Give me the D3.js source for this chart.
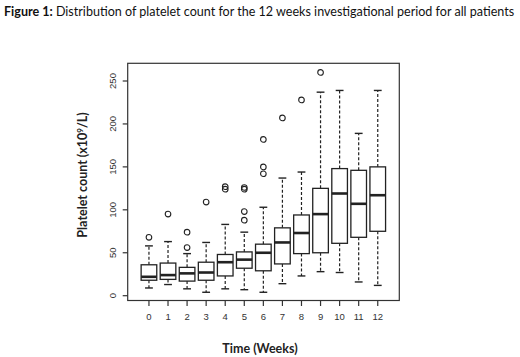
<!DOCTYPE html>
<html>
<head>
<meta charset="utf-8">
<script src="https://cdn.jsdelivr.net/npm/d3@7"></script>
<style>
  body { margin: 0; background: #fff; }
  svg { display: block; }
</style>
</head>
<body>
<svg id="chart" width="520" height="357"></svg>
<script>
// weeks and box statistics
var weeks = [0, 1, 2, 3, 4, 5, 6, 7, 8, 9, 10, 11, 12];
var whiskerLow = [9, 13, 8, 4, 8, 7, 4, 14, 23, 28, 27, 16, 12];
var q1 = [18, 19, 17, 18, 23, 32, 29, 37, 49, 50, 61, 68, 75];
var medians = [22, 24, 26, 27, 39, 42, 50, 62, 73, 95, 119, 107, 117];
var q3 = [36, 38, 33, 39, 48, 51, 60, 79, 94, 125, 148, 146, 150];
var whiskerHigh = [58, 63, 49, 62, 83, 74, 103, 137, 144, 237, 239, 189, 239];
var outliers = [[68], [95], [74, 56], [109], [127, 124], [126, 124, 98, 88],
                [182, 150, 142], [207], [228], [260], [], [], []];
var yTicks = [0, 50, 100, 150, 200, 250];

var svg = d3.select("#chart");
const frame = {left: 127.7, right: 399.3, top: 63.3, bottom: 300.5};

var x = d3.scaleBand()
    .domain(weeks)
    .range([137.7, 389])
    .padding(0.18);
var y = d3.scaleLinear()
    .domain([0, 250])
    .range([295.7, 81]);

var boxes = weeks.map((w, i) => ({
    week: w, lo: whiskerLow[i], q1: q1[i], med: medians[i],
    q3: q3[i], hi: whiskerHigh[i], out: outliers[i]
}));

// title, shrunk to fit the width of the page
var title = svg.append("text")
    .attr("x", 4)
    .attr("y", 16)
    .style("font-family", "Lato, 'Open Sans', sans-serif")
    .style("font-size", "13px")
    .attr("fill", "#111");
title.append("tspan").style("font-weight", "bold").text("Figure 1:");
title.append("tspan").text(" Distribution of platelet count for the 12 weeks investigational period for all patients");
var tw = title.node().getComputedTextLength();
if (tw > 511) title.style("font-size", (13 * 511 / tw) + "px");

// frame
svg.append("rect")
    .attr("x", frame.left)
    .attr("y", frame.top)
    .attr("width", frame.right - frame.left)
    .attr("height", frame.bottom - frame.top)
    .attr("fill", "none")
    .attr("stroke", "#333")
    .attr("stroke-width", 1.2);

// y axis
var yAxis = svg.append("g")
    .attr("transform", "translate(" + frame.left + ",0)")
    .call(d3.axisLeft(y).tickValues(yTicks).tickSize(5).tickSizeOuter(0));
yAxis.select(".domain").remove();
yAxis.selectAll("line").attr("stroke", "#333").attr("stroke-width", 1.2);
yAxis.selectAll(".tick").attr("transform", null);
yAxis.selectAll(".tick line").attr("y1", d => y(d)).attr("y2", d => y(d)).attr("x2", -5);
yAxis.selectAll("text")
    .attr("x", 0).attr("y", 0).attr("dy", "0.35em")
    .attr("text-anchor", "middle")
    .attr("transform", d => "translate(-15," + y(d) + ") rotate(-90)")
    .style("font-family", "'Liberation Sans', Arial, sans-serif")
    .style("font-size", "9.5px")
    .attr("fill", "#333");

// x axis
var xAxis = svg.append("g")
    .attr("transform", "translate(0," + frame.bottom + ")")
    .call(d3.axisBottom(x).tickSize(5.5).tickPadding(7));
xAxis.select(".domain").remove();
xAxis.selectAll("line").attr("stroke", "#333").attr("stroke-width", 1.2);
xAxis.selectAll("text")
    .style("font-family", "'Liberation Sans', Arial, sans-serif")
    .style("font-size", "9.5px")
    .attr("fill", "#333");

// axis titles
svg.append("text")
    .attr("x", 260)
    .attr("y", 353)
    .attr("text-anchor", "middle")
    .style("font-family", "Lato, 'Open Sans', sans-serif")
    .style("font-weight", "bold")
    .style("font-size", "12.5px")
    .attr("fill", "#222")
    .text("Time (Weeks)");

var ylab = svg.append("text")
    .attr("transform", "translate(87,175) rotate(-90)")
    .attr("text-anchor", "middle")
    .style("font-family", "Lato, 'Open Sans', sans-serif")
    .style("font-weight", "bold")
    .style("font-size", "12.5px")
    .attr("fill", "#222");
ylab.append("tspan").text("Platelet count (x10");
ylab.append("tspan").attr("dy", -4).style("font-size", "8px").text("9");
ylab.append("tspan").attr("dy", 4).text("/L)");

// boxes
var bw = x.bandwidth();
var g = svg.append("g").attr("stroke", "#222").attr("fill", "none");
var box = g.selectAll("g.box")
    .data(boxes).enter()
    .append("g").classed("box", true)
    .attr("transform", d => "translate(" + (x(d.week) + bw / 2) + ",0)");

// whiskers
box.append("line")
    .attr("y1", d => y(d.q3)).attr("y2", d => y(d.hi))
    .attr("stroke-width", 1.2).attr("stroke-dasharray", "3,2");
box.append("line")
    .attr("y1", d => y(d.q1)).attr("y2", d => y(d.lo))
    .attr("stroke-width", 1.2).attr("stroke-dasharray", "3,2");
box.append("line")
    .attr("x1", -bw / 4).attr("x2", bw / 4)
    .attr("y1", d => y(d.hi)).attr("y2", d => y(d.hi))
    .attr("stroke-width", 1.4);
box.append("line")
    .attr("x1", -bw / 4).attr("x2", bw / 4)
    .attr("y1", d => y(d.lo)).attr("y2", d => y(d.lo))
    .attr("stroke-width", 1.4);

box.append("rect")
    .attr("x", -bw / 2)
    .attr("width", bw)
    .attr("y", d => y(d.q3))
    .attr("height", d => y(d.q1) - y(d.q3))
    .attr("fill", "#fff")
    .attr("stroke-width", 1.3);
box.append("line")
    .attr("x1", -bw / 2).attr("x2", bw / 2)
    .attr("y1", d => y(d.med)).attr("y2", d => y(d.med))
    .attr("stroke-width", 2.6);

box.selectAll("circle")
    .data(d => d.out).enter()
    .append("circle")
    .attr("cy", v => y(v))
    .attr("r", 2.8)
    .attr("stroke-width", 1.1);
</script>
</body>
</html>
